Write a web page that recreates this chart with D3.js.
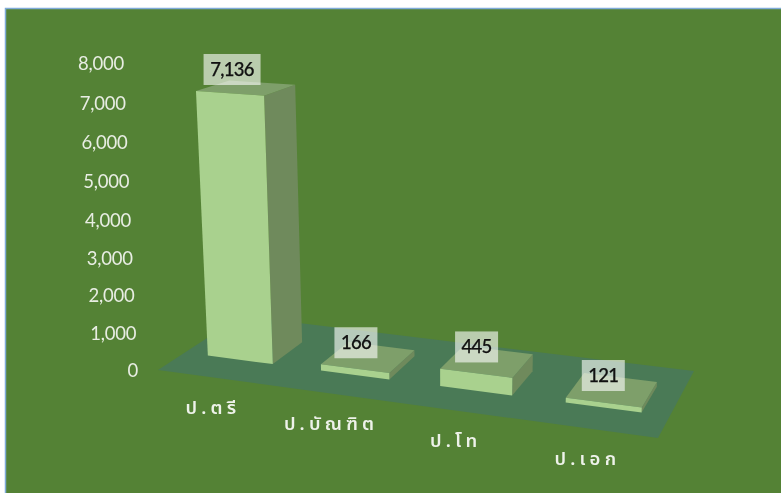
<!DOCTYPE html>
<html>
<head>
<meta charset="utf-8">
<script src="https://cdn.jsdelivr.net/npm/d3@7"></script>
<style>
  html, body { margin: 0; padding: 0; background: #fff; }
  svg { display: block; filter: blur(0.45px); }
</style>
</head>
<body>
<script>
const categories = ['ป.ตรี', 'ป.บัณฑิต', 'ป.โท', 'ป.เอก'];
const values = [7136, 166, 445, 121];
const tickValues = [0, 1000, 2000, 3000, 4000, 5000, 6000, 7000, 8000];

const width = 781, height = 493;
const svg = d3.select('body').append('svg')
  .attr('width', width)
  .attr('height', height);

// slide background
svg.append('rect')
  .attr('x', 5.5).attr('y', 8.5)
  .attr('width', width).attr('height', height)
  .attr('fill', '#548235')
  .attr('stroke', '#7fabd8')
  .attr('stroke-width', 1.5);

// the floor is a perspective plane, u runs along the categories, v goes to the back
const floor = { fl: [158, 370], fr: [658, 438], br: [694, 371], bl: [241, 316] };

function makeHomography(q) {
  const sx = q.fl[0] - q.fr[0] + q.br[0] - q.bl[0];
  const sy = q.fl[1] - q.fr[1] + q.br[1] - q.bl[1];
  const dx1 = q.fr[0] - q.br[0], dx2 = q.bl[0] - q.br[0];
  const dy1 = q.fr[1] - q.br[1], dy2 = q.bl[1] - q.br[1];
  const den = dx1 * dy2 - dx2 * dy1;
  const g = (sx * dy2 - dx2 * sy) / den;
  const h = (dx1 * sy - sx * dy1) / den;
  const a = q.fr[0] - q.fl[0] + g * q.fr[0];
  const b = q.bl[0] - q.fl[0] + h * q.bl[0];
  const d = q.fr[1] - q.fl[1] + g * q.fr[1];
  const e = q.bl[1] - q.fl[1] + h * q.bl[1];
  return (u, v) => {
    const w = g * u + h * v + 1;
    return { x: (a * u + b * v + q.fl[0]) / w, y: (d * u + e * v + q.fl[1]) / w, w: w };
  };
}
const project = makeHomography(floor);

const xBand = d3.scaleBand()
  .domain(categories)
  .range([0, 1])
  .paddingInner(0.42)
  .paddingOuter(0.21);

const depth = { front: 0.30, back: 0.69 };

const heightScale = d3.scaleLinear().domain([0, 8000]).range([0, 305]);

// screen point for a floor position raised to a given value
function point3d(u, v, value) {
  const p = project(u, v);
  const hpx = heightScale(value) / p.w;
  return [p.x + (p.x - 444) * 0.00019 * hpx, p.y - hpx];
}

const line = d3.line();
const colors = {
  floor: '#4a7a56',
  front: '#a9d18e',
  side: '#6f8a5c',
  top: '#7e9f6a',
  label: '#cfdcc4'
};

svg.append('path')
  .attr('d', line([floor.fl, floor.fr, floor.br, floor.bl]) + 'Z')
  .attr('fill', colors.floor);

const bars = svg.selectAll('g.bar')
  .data(categories.map((c, i) => ({ category: c, value: values[i] })))
  .enter()
  .append('g')
  .attr('class', 'bar');

function corners(d) {
  const u0 = xBand(d.category), u1 = u0 + xBand.bandwidth();
  return {
    fl0: point3d(u0, depth.front, 0), fr0: point3d(u1, depth.front, 0), br0: point3d(u1, depth.back, 0),
    fl1: point3d(u0, depth.front, d.value), fr1: point3d(u1, depth.front, d.value),
    br1: point3d(u1, depth.back, d.value), bl1: point3d(u0, depth.back, d.value)
  };
}

bars.append('path')
  .attr('fill', colors.side)
  .attr('d', d => { const c = corners(d); return line([c.fr0, c.br0, c.br1, c.fr1]) + 'Z'; });
bars.append('path')
  .attr('fill', colors.top)
  .attr('d', d => { const c = corners(d); return line([c.fl1, c.fr1, c.br1, c.bl1]) + 'Z'; });
bars.append('path')
  .attr('fill', colors.front)
  .attr('d', d => { const c = corners(d); return line([c.fl0, c.fr0, c.fr1, c.fl1]) + 'Z'; });

// value labels sit on a pale box over the top face, the offset drifts a bit along the floor
const numFormat = d3.format(',');
const labelShift = d3.scaleLinear().domain([0, 1]).range([-15, -8]);
const labelLift = d3.scaleLinear().domain([0, 8000]).range([14.5, 19]);
const boxWidth = { 3: 43, 5: 57 };
const labels = bars.append('g')
  .attr('transform', d => {
    const c = corners(d);
    const cx = d3.mean([c.fl1, c.fr1, c.br1, c.bl1], p => p[0]);
    const cy = d3.mean([c.fl1, c.fr1, c.br1, c.bl1], p => p[1]);
    const u = xBand(d.category) + xBand.bandwidth() / 2;
    return `translate(${cx + labelShift(u)}, ${cy - labelLift(d.value)})`;
  });
labels.append('rect')
  .attr('fill', '#fff')
  .attr('fill-opacity', 0.6)
  .attr('y', -15.5)
  .attr('height', 31)
  .attr('width', d => boxWidth[numFormat(d.value).length])
  .attr('x', d => -boxWidth[numFormat(d.value).length] / 2);
labels.append('text')
  .attr('text-anchor', 'middle')
  .attr('y', 6.5)
  .attr('font-family', 'Lato, "Open Sans", sans-serif')
  .attr('font-size', 18.5)
  .attr('font-weight', 500)
  .attr('letter-spacing', -0.7)
  .attr('fill', '#111')
  .attr('stroke', '#111')
  .attr('stroke-width', 0.25)
  .text(d => numFormat(d.value));

// value axis, labels only, it follows the slanted left edge of the floor
const yAxisScale = d3.scaleLinear().domain([0, 4000, 8000]).range([371.5, 221.5, 64.5]);
const axisX = d3.scaleLinear().domain([0, 8000]).range([138, 124]);

const yAxis = svg.append('g')
  .call(d3.axisLeft(yAxisScale).tickValues(tickValues).tickFormat(numFormat).tickSize(0).tickPadding(0));
yAxis.select('.domain').remove();
yAxis.selectAll('.tick')
  .attr('transform', d => `translate(${axisX(d)}, ${yAxisScale(d)})`);
yAxis.selectAll('text')
  .attr('font-family', 'Lato, "Open Sans", sans-serif')
  .attr('font-size', 18.5)
  .attr('letter-spacing', -0.2)
  .attr('fill', '#e8ede3');

// category labels
svg.selectAll('text.cat')
  .data(categories)
  .enter()
  .append('text')
  .attr('class', 'cat')
  .attr('text-anchor', 'middle')
  .attr('font-family', '"Noto Sans", "Noto Sans Thai", "DejaVu Sans", sans-serif')
  .attr('font-size', 18.5)
  .attr('font-weight', 600)
  .attr('letter-spacing', 4.2)
  .attr('fill', '#eef2ea')
  .attr('x', d => project(xBand(d) + xBand.bandwidth() / 2, 0).x - 2)
  .attr('y', d => project(xBand(d) + xBand.bandwidth() / 2, 0).y + 36)
  .text(d => d);
</script>
</body>
</html>
